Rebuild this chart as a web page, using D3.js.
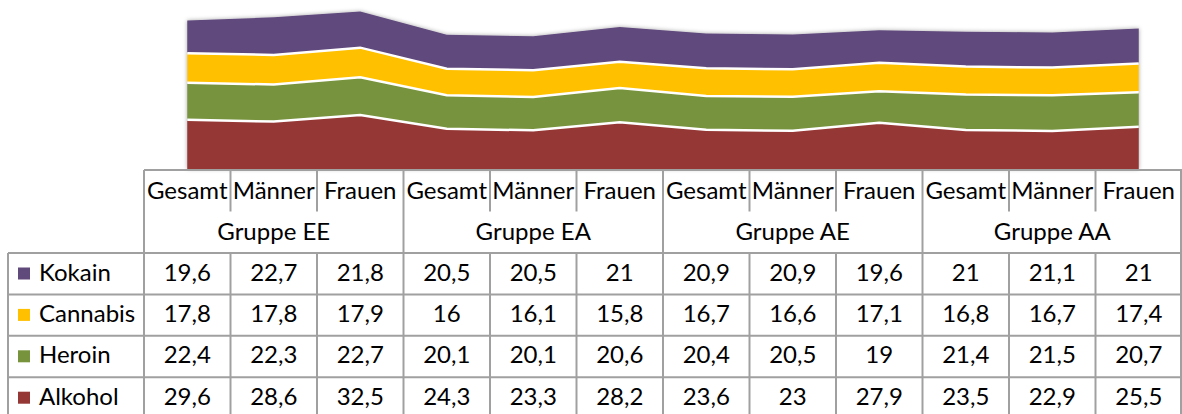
<!DOCTYPE html>
<html>
<head>
<meta charset="utf-8">
<script src="https://cdn.jsdelivr.net/npm/d3@7"></script>
<style>
  body { margin: 0; background: #fff; }
  svg text { font-family: Lato, "Open Sans", sans-serif; fill: #000; }
</style>
</head>
<body>
<svg id="chart" width="1182" height="414"></svg>
<script>
"use strict";

// categories
var groups = ["Gruppe EE", "Gruppe EA", "Gruppe AE", "Gruppe AA"],
  subgroups = ["Gesamt", "Männer", "Frauen"]
;

// series values, one per column (groups x subgroups)
var kokain   = [19.6, 22.7, 21.8, 20.5, 20.5, 21, 20.9, 20.9, 19.6, 21, 21.1, 21],
  cannabis = [17.8, 17.8, 17.9, 16, 16.1, 15.8, 16.7, 16.6, 17.1, 16.8, 16.7, 17.4],
  heroin   = [22.4, 22.3, 22.7, 20.1, 20.1, 20.6, 20.4, 20.5, 19, 21.4, 21.5, 20.7],
  alkohol  = [29.6, 28.6, 32.5, 24.3, 23.3, 28.2, 23.6, 23, 27.9, 23.5, 22.9, 25.5]
;

// table rows, top to bottom (legend order)
var seriesNames = ["Kokain", "Cannabis", "Heroin", "Alkohol"],
  seriesValues = [kokain, cannabis, heroin, alkohol],
  seriesColors = ["#604a7b", "#ffc000", "#77933c", "#953735"]
;

let svg = d3.select("#chart"),
  tableLeft = 144,
  tableRight = 1182,
  legendLeft = 8,
  plotTop = 3,
  plotBottom = 169,
  headTop = 170,
  headMid = 211.5,
  rowTop = 253,
  rowH = 41.4,
  lineColor = "#a0a0a0",
  fontSize = 24
;

let columns = [];
groups.forEach(function(g, gi) {
  subgroups.forEach(function(s, si) {
    columns.push({ key: g + "|" + s, group: g, sub: s, index: gi * 3 + si });
  });
});

let x = d3.scaleBand().domain(columns.map(function(c) { return c.key; })).range([tableLeft, tableRight]),
  y = d3.scaleLinear().domain([0, 100]).range([plotBottom, plotTop]),
  cx = function(i) { return x(columns[i].key) + x.bandwidth() / 2; }
;

// stack, bottom to top: Alkohol, Heroin, Cannabis, Kokain
let rows = columns.map(function(c, i) {
  let r = { i: i };
  seriesNames.forEach(function(n, k) { r[n] = seriesValues[k][i]; });
  return r;
});
let stackKeys = seriesNames.slice().reverse(),
  stacked = d3.stack().keys(stackKeys)(rows),
  colorOf = d3.scaleOrdinal().domain(seriesNames).range(seriesColors)
;

let defs = svg.append("defs");
let shadow = defs.append("filter").attr("id", "shadow")
  .attr("x", "-5%").attr("y", "-10%").attr("width", "110%").attr("height", "120%");
shadow.append("feDropShadow")
  .attr("dx", 0).attr("dy", 0).attr("stdDeviation", 2.2)
  .attr("flood-color", "#000").attr("flood-opacity", 0.35);

let area = d3.area()
  .x(function(d) { return cx(d.data.i); })
  .y0(function(d) { return y(d[0]); })
  .y1(function(d) { return y(d[1]); });

let topLine = d3.line()
  .x(function(d) { return cx(d.data.i); })
  .y(function(d) { return y(d[1]); });

let plot = svg.append("g").attr("filter", "url(#shadow)");
plot.selectAll("path.layer")
  .data(stacked)
  .enter().append("path")
    .attr("class", "layer")
    .attr("fill", function(d) { return colorOf(d.key); })
    .attr("d", area);

// white separators between layers
svg.append("g").selectAll("path.sep")
  .data(stacked.slice(0, stacked.length - 1))
  .enter().append("path")
    .attr("class", "sep")
    .attr("fill", "none")
    .attr("stroke", "#fff")
    .attr("stroke-width", 2.5)
    .attr("d", topLine);

// ---- data table ----
let table = svg.append("g").attr("stroke", lineColor).attr("stroke-width", 2);
let rowCount = seriesNames.length,
  tableBottom = rowTop + rowH * rowCount
;

function hline(x1, x2, yy) {
  table.append("line").attr("x1", x1).attr("x2", x2).attr("y1", yy).attr("y2", yy);
}
function vline(xx, y1, y2) {
  table.append("line").attr("x1", xx).attr("x2", xx).attr("y1", y1).attr("y2", y2);
}

hline(tableLeft, tableRight, headTop);
d3.range(rowCount + 1).forEach(function(r) {
  hline(legendLeft, tableRight, rowTop + r * rowH);
});
vline(legendLeft, rowTop, tableBottom);

// column boundaries: group edges run full height, sub-column edges skip the group label row
columns.forEach(function(c, i) {
  let xx = x(c.key);
  if (i % 3 === 0) {
    vline(xx, headTop, tableBottom);
  } else {
    vline(xx, headTop, headMid);
    vline(xx, rowTop, tableBottom);
  }
});
vline(tableRight - 1, headTop, tableBottom);

let fmt = function(v) { return String(v).replace(".", ","); };

let text = svg.append("g").attr("font-size", fontSize).attr("text-anchor", "middle");

text.selectAll("text.sub")
  .data(columns)
  .enter().append("text")
    .attr("class", "sub")
    .attr("x", function(d, i) { return cx(i); })
    .attr("y", 199)
    .text(function(d) { return d.sub; });

text.selectAll("text.grp")
  .data(groups)
  .enter().append("text")
    .attr("class", "grp")
    .attr("x", function(d, gi) { return (x(columns[gi * 3].key) + x(columns[gi * 3 + 2].key) + x.bandwidth()) / 2; })
    .attr("y", 240)
    .text(function(d) { return d; });

seriesNames.forEach(function(name, r) {
  let base = rowTop + r * rowH + 27.5;
  svg.append("rect")
    .attr("x", 18).attr("y", base - 13)
    .attr("width", 12).attr("height", 12)
    .attr("fill", seriesColors[r]);
  svg.append("text")
    .attr("x", 39).attr("y", base)
    .attr("font-size", fontSize)
    .text(name);
  text.selectAll("text.v" + r)
    .data(seriesValues[r])
    .enter().append("text")
      .attr("x", function(d, i) { return cx(i); })
      .attr("y", base)
      .text(fmt);
});
</script>
</body>
</html>
